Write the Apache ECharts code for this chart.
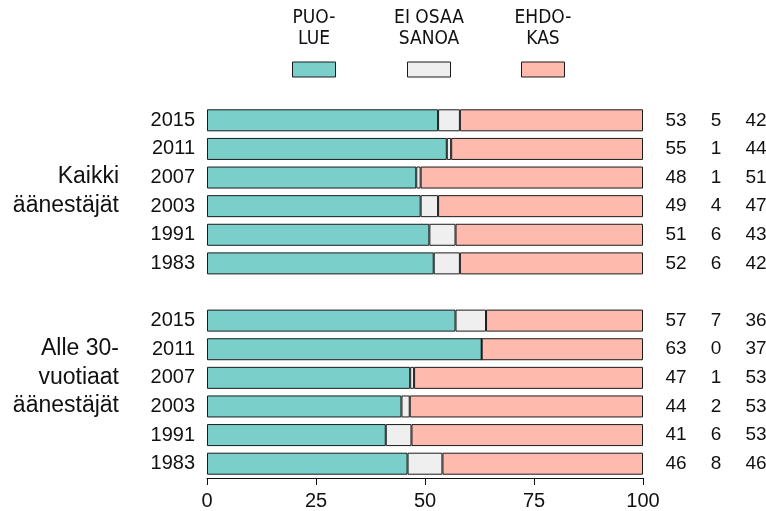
<!DOCTYPE html>
<html>
<head>
<meta charset="utf-8">
<script src="https://cdn.jsdelivr.net/npm/echarts@6/dist/echarts.min.js"></script>
<style>
  html, body { margin: 0; padding: 0; background: #fff; }
  #main { width: 766px; height: 511px; }
</style>
</head>
<body>
<div id="main"></div>
<script>
// vuodet ylhäältä alas
var years = ['2015', '2011', '2007', '2003', '1991', '1983'];
var seriesNames = ['PUO-\nLUE', 'EI OSAA\nSANOA', 'EHDO-\nKAS'];
var colors = ['#7acfcb', '#efefef', '#ffbaae'];

// kaikki äänestäjät (%)
var puolueAll = [53, 55, 48, 49, 51, 52];
var eiOsaaAll = [5, 1, 1, 4, 6, 6];
var ehdokasAll = [42, 44, 51, 47, 43, 42];

// alle 30-vuotiaat (%), palkit luettu kuvasta
var puolueYoung = [57, 63, 46.6, 44.6, 41, 46];
var eiOsaaYoung = [7, 0, 0.9, 1.9, 5.9, 8];
var ehdokasYoung = [36, 37, 52.5, 53.5, 53.1, 46];

// oikean reunan luvut
var shownAll = [[53, 5, 42], [55, 1, 44], [48, 1, 51], [49, 4, 47], [51, 6, 43], [52, 6, 42]];
var shownYoung = [[57, 7, 36], [63, 0, 37], [47, 1, 53], [44, 2, 53], [41, 6, 53], [46, 8, 46]];

var xTicks = [0, 25, 50, 75, 100];

var categories = years.concat(['']).concat(years);
var shown = shownAll.concat([null]).concat(shownYoung);
var seriesData = [
    puolueAll.concat(['-']).concat(puolueYoung),
    eiOsaaAll.concat(['-']).concat(eiOsaaYoung),
    ehdokasAll.concat(['-']).concat(ehdokasYoung)
];

var font = 'Liberation Sans, Arial, sans-serif';
var narrow = '"Liberation Sans Narrow", "Arial Narrow", "DejaVu Sans Condensed", sans-serif';
var fs = 21;

var series = seriesData.map(function (d, i) {
    var s = {
        name: seriesNames[i],
        type: 'bar',
        stack: 'all',
        barWidth: 22,
        data: d,
        itemStyle: { color: colors[i], borderColor: '#1a1a1a', borderWidth: 1 },
        emphasis: { disabled: true },
        animation: false
    };
    if (i === 2) {
        // luvut palkin oikealle puolelle
        var cell = { width: 40, align: 'center', fontSize: 19, fontFamily: font, color: '#111' };
        s.label = {
            show: true,
            position: 'right',
            distance: 13,
            formatter: function (p) {
                var v = shown[p.dataIndex];
                if (!v) return '';
                return '{a|' + v[0] + '}{a|' + v[1] + '}{a|' + v[2] + '}';
            },
            rich: { a: cell }
        };
    }
    return s;
});

// selite: teksti yläpuolella, laatikko alla
var legendX = [314, 429, 543];
var graphic = [];
seriesNames.forEach(function (n, i) {
    graphic.push({
        type: 'text', x: legendX[i], y: 8,
        style: { text: n, fill: '#111', font: '19px ' + narrow, align: 'center', lineHeight: 21 }
    });
    graphic.push({
        type: 'rect', shape: { x: legendX[i] - 21.5, y: 62, width: 43, height: 15 },
        style: { fill: colors[i], stroke: '#1a1a1a', lineWidth: 1 }
    });
});
graphic.push({
    type: 'text', x: 119, y: 162.5,
    style: { text: 'Kaikki\näänestäjät', fill: '#111', font: '23px ' + font, align: 'right', lineHeight: 28.6 }
});
graphic.push({
    type: 'text', x: 119, y: 334.5,
    style: { text: 'Alle 30-\nvuotiaat\näänestäjät', fill: '#111', font: '23px ' + font, align: 'right', lineHeight: 28.6 }
});

var chart = echarts.init(document.getElementById('main'));
chart.setOption({
    backgroundColor: '#fff',
    animation: false,
    grid: { left: 207, right: 123, top: 106, bottom: 32.5, containLabel: false },
    xAxis: {
        type: 'value',
        min: xTicks[0],
        max: xTicks[xTicks.length - 1],
        interval: xTicks[1] - xTicks[0],
        axisLine: { show: true, lineStyle: { color: '#111', width: 1 } },
        axisTick: { show: true, length: 7, lineStyle: { color: '#111' } },
        splitLine: { show: false },
        axisLabel: { fontSize: 20, fontFamily: font, color: '#111', margin: 13 }
    },
    yAxis: {
        type: 'category',
        inverse: true,
        data: categories,
        axisLine: { show: false },
        axisTick: { show: false },
        axisLabel: { fontSize: 20, fontFamily: font, color: '#111', margin: 12 }
    },
    graphic: graphic,
    series: series
});
</script>
</body>
</html>
